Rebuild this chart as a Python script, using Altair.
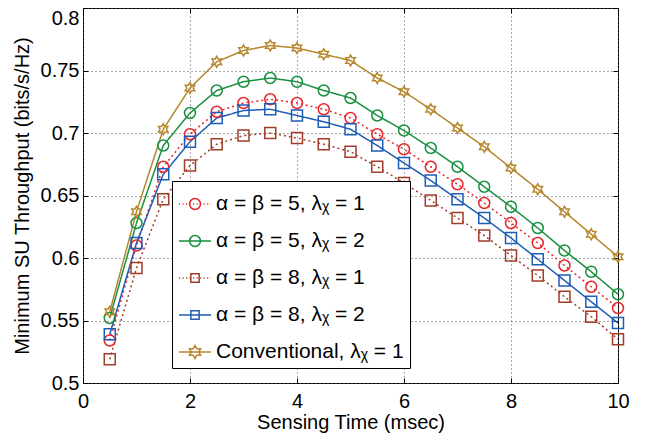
import math
import altair as alt
import pandas as pd

# ---------------- data ----------------
sensing_time = [0.5, 1.0, 1.5, 2.0, 2.5, 3.0, 3.5, 4.0, 4.5, 5.0,
                5.5, 6.0, 6.5, 7.0, 7.5, 8.0, 8.5, 9.0, 9.5, 10.0]

series_names = [
    "α = β = 5, λᵪ = 1",
    "α = β = 5, λᵪ = 2",
    "α = β = 8, λᵪ = 1",
    "α = β = 8, λᵪ = 2",
    "Conventional, λᵪ = 1",
]

a5_l1 = [0.534, 0.610, 0.673, 0.699, 0.717, 0.724, 0.727, 0.724, 0.719, 0.712,
         0.699, 0.687, 0.673, 0.659, 0.644, 0.628, 0.612, 0.594, 0.577, 0.560]
a5_l2 = [0.552, 0.628, 0.690, 0.716, 0.734, 0.741, 0.744, 0.741, 0.734, 0.728,
         0.714, 0.702, 0.688, 0.673, 0.657, 0.641, 0.624, 0.606, 0.589, 0.571]
a8_l1 = [0.519, 0.592, 0.647, 0.674, 0.691, 0.698, 0.700, 0.696, 0.691, 0.685,
         0.673, 0.660, 0.646, 0.632, 0.618, 0.602, 0.586, 0.569, 0.553, 0.535]
a8_l2 = [0.539, 0.612, 0.667, 0.693, 0.712, 0.718, 0.719, 0.714, 0.709, 0.703,
         0.690, 0.676, 0.662, 0.647, 0.632, 0.616, 0.599, 0.582, 0.565, 0.548]
conventional = [0.557, 0.637, 0.703, 0.736, 0.757, 0.766, 0.770, 0.768, 0.763, 0.758,
                0.744, 0.733, 0.719, 0.704, 0.689, 0.672, 0.655, 0.637, 0.619, 0.601]

x_ticks = [0, 2, 4, 6, 8, 10]
y_ticks = [0.5, 0.55, 0.6, 0.65, 0.7, 0.75, 0.8]

# ---------------- styles ----------------
colors = ["#e8262c", "#17903f", "#a03c28", "#1f5cb6", "#b5862c"]
dashes = [[2, 3], [1, 0], [2, 3], [1, 0], [1, 0]]
sizes = [120, 120, 70, 70, 170]
FONT = "Liberation Sans"


def star_path(r):
    pts = []
    for k in range(12):
        ang = math.radians(-90 + 30 * k)
        rr = r if k % 2 == 0 else r / math.sqrt(3)
        pts.append(f"{rr * math.cos(ang):.4f},{rr * math.sin(ang):.4f}")
    return "M" + "L".join(pts) + "Z"


def circle_path(r):
    return (f"M{r},0A{r},{r} 0 1,1 {-r},0A{r},{r} 0 1,1 {r},0Z")


def square_path(h):
    return f"M{-h},{-h}L{h},{-h}L{h},{h}L{-h},{h}Z"


def dotted_line():
    segs = []
    a = -1.0
    while a < 1.0:
        segs.append(f"M{a:.3f},0L{min(a + 0.07, 1.0):.3f},0")
        a += 0.22
    return "".join(segs)


solid_line = "M-1,0L1,0"
legend_shapes = [
    dotted_line() + circle_path(0.34),
    solid_line + circle_path(0.34),
    dotted_line() + square_path(0.26),
    solid_line + square_path(0.26),
    solid_line + star_path(0.4),
]
plot_shapes = ["circle", "circle", "square", "square", star_path(1.0)]

rows = []
for name, vals in zip(series_names, [a5_l1, a5_l2, a8_l1, a8_l2, conventional]):
    for t, v in zip(sensing_time, vals):
        rows.append({"t": t, "v": v, "series": name})
df = pd.DataFrame(rows)

xscale = alt.Scale(domain=[0, 10], nice=False, zero=False)
yscale = alt.Scale(domain=[0.5, 0.8], nice=False, zero=False)
cscale = alt.Scale(domain=series_names, range=colors)

base = alt.Chart(df)

# main lines with main axes (labels, titles, dotted grid)
lines = base.mark_line(strokeWidth=1.5).encode(
    x=alt.X("t:Q", scale=xscale,
            axis=alt.Axis(values=x_ticks, title="Sensing Time (msec)", grid=True,
                          ticks=False, domain=False, labelPadding=8, titlePadding=1,
                          labelFlush=False)),
    y=alt.Y("v:Q", scale=yscale,
            axis=alt.Axis(values=y_ticks, format="~g", title="Minimum SU Throughput (bits/s/Hz)",
                          grid=True, ticks=False, domain=False, labelPadding=4,
                          titlePadding=8,
                          labelBaseline={"condition": {"test": "datum.value > 0.79", "value": "top"},
                                         "value": "middle"})),
    color=alt.Color("series:N", scale=cscale, legend=None),
    strokeDash=alt.StrokeDash("series:N", scale=alt.Scale(domain=series_names, range=dashes),
                              legend=None),
    detail="series:N",
)

# markers, plus inward ticks on top / right
points = base.mark_point(filled=False, opacity=1, strokeWidth=1.5).encode(
    x=alt.X("t:Q", scale=xscale,
            axis=alt.Axis(orient="top", offset=-5, values=x_ticks, labels=False, grid=False,
                          domain=False, ticks=True, tickSize=5, title=None)),
    y=alt.Y("v:Q", scale=yscale,
            axis=alt.Axis(orient="right", offset=-5, values=y_ticks, labels=False, grid=False,
                          domain=False, ticks=True, tickSize=5, title=None)),
    color=alt.Color("series:N", scale=cscale, legend=None),
    shape=alt.Shape("series:N", scale=alt.Scale(domain=series_names, range=plot_shapes),
                    legend=None),
    size=alt.Size("series:N", scale=alt.Scale(domain=series_names, range=sizes), legend=None),
)

legend_props = dict(
    title=None, orient="none", legendX=89, legendY=173,
    symbolSize=1024, symbolStrokeWidth=1.5, labelFontSize=21, labelFont=FONT,
    labelColor="black", labelOffset=4, rowPadding=10, padding=6,
    strokeColor="black", fillColor="white", labelLimit=400,
)

# empty layer that carries the legend and the inward ticks on bottom / left
legend_layer = base.mark_point(filled=False, opacity=1, strokeWidth=1.5, size=1024).encode(
    x=alt.X("t:Q", scale=xscale,
            axis=alt.Axis(orient="bottom", offset=-5, values=x_ticks, labels=False, grid=False,
                          domain=False, ticks=True, tickSize=5, title=None)),
    y=alt.Y("v:Q", scale=yscale,
            axis=alt.Axis(orient="left", offset=-5, values=y_ticks, labels=False, grid=False,
                          domain=False, ticks=True, tickSize=5, title=None)),
    color=alt.Color("series:N", scale=alt.Scale(domain=series_names, range=colors),
                    legend=alt.Legend(**legend_props)),
    shape=alt.Shape("series:N", scale=alt.Scale(domain=series_names, range=legend_shapes),
                    legend=alt.Legend(**legend_props)),
).transform_filter("false")

chart = alt.layer(lines, points, legend_layer).resolve_scale(
    color="independent", shape="independent"
).resolve_axis(
    x="independent", y="independent"
).properties(
    width=535, height=375,
    autosize=alt.AutoSizeParams(type="none"),
    padding={"left": 75, "top": 0, "right": 20, "bottom": 53},
    background="white",
).configure(
    font=FONT
).configure_view(
    stroke="black", strokeWidth=1
).configure_axis(
    labelFont=FONT, titleFont=FONT, labelFontSize=20, titleFontSize=20,
    titleFontWeight="normal", labelColor="black", titleColor="black",
    tickColor="black", tickWidth=1, gridColor="#555555", gridDash=[1, 3], gridWidth=1,
    gridOpacity=1,
)

chart.save("out.html", embed_options={"renderer": "svg", "actions": False})
